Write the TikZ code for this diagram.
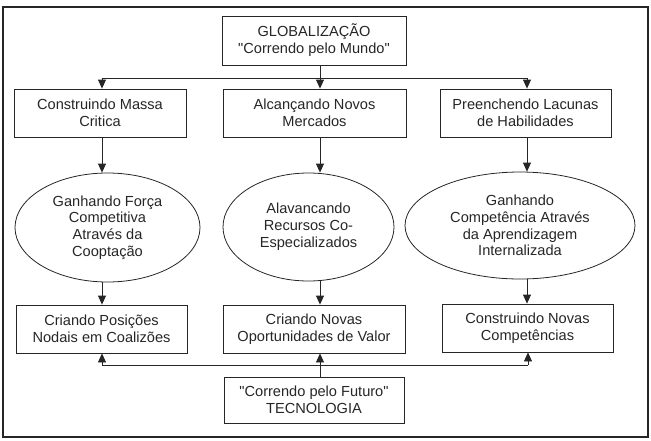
\documentclass[tikz,border=0pt]{standalone}
\usepackage{fontspec}
\setmainfont{Liberation Sans}
\usetikzlibrary{arrows.meta,shapes.geometric}
\tikzset{
  every node/.style={font=\fontsize{14.6}{16.8}\selectfont, text=black!85, align=center, inner sep=0pt},
  boxnode/.style={draw=black!85, line width=0.8pt, rectangle, minimum height=48pt},
  ellnode/.style={draw=black!85, line width=0.8pt, ellipse},
  conn/.style={draw=black!85, line width=0.8pt},
  arr/.style={conn, -{Triangle[length=9pt,width=8pt]}}
}
\begin{document}
\begin{tikzpicture}[x=1pt,y=-1pt]
\useasboundingbox (0,0) rectangle (651,440);
\draw[black!85, line width=1.1pt] (3,7) rectangle (648,437);
% arrow columns
\coordinate (xa) at (102,0);
\coordinate (xb) at (320,0);
\coordinate (xc) at (527,0);
% top
\node[boxnode, minimum width=184pt, minimum height=49pt] (glob) at (314,40.5) {GLOBALIZAÇÃO\\\textquotedbl Correndo pelo Mundo\textquotedbl};
% row 2
\node[boxnode, minimum width=172pt] (a1) at (100,113) {Construindo Massa\\Critica};
\node[boxnode, minimum width=183pt] (b1) at (314.5,113) {Alcançando Novos\\Mercados};
\node[boxnode, minimum width=171pt] (c1) at (525.5,113) {Preenchendo Lacunas\\de Habilidades};
% ellipses
\node[ellnode, minimum width=185pt, minimum height=109pt] (a2) at (107.5,227.5) {Ganhando Força\\Competitiva\\Através da\\Cooptação};
\node[ellnode, minimum width=171pt, minimum height=108pt] (b2) at (308.5,227) {Alavancando\\Recursos Co-\\Especializados};
\node[ellnode, minimum width=230pt, minimum height=107pt] (c2) at (520,225.5) {Ganhando\\Competência Através\\da Aprendizagem\\Internalizada};
% row 3
\node[boxnode, minimum width=171pt] (a3) at (101.5,329) {Criando Posições\\Nodais em Coalizões};
\node[boxnode, minimum width=182pt] (b3) at (314,329) {Criando Novas\\Oportunidades de Valor};
\node[boxnode, minimum width=171pt] (c3) at (527.5,328) {Construindo Novas\\Competências};
% bottom
\node[boxnode, minimum width=180pt, minimum height=46pt] (tech) at (314,400) {\textquotedbl Correndo pelo Futuro\textquotedbl\\TECNOLOGIA};
% top distribution
\coordinate (tl) at (102,78);
\coordinate (tm) at (320,78);
\coordinate (tr) at (527,78);
\draw[conn] (xb |- glob.south) -- (tm);
\draw[conn] (tl) -- (tr);
\draw[arr] (tl) -- (xa |- a1.north);
\draw[arr] (tm) -- (xb |- b1.north);
\draw[arr] (tr) -- (xc |- c1.north);
% vertical flows
\draw[arr] (xa |- a1.south) -- (xa |- a2.north);
\draw[arr] (xb |- b1.south) -- (xb |- b2.north);
\draw[arr] (xc |- c1.south) -- (xc |- c2.north);
\draw[arr] (xa |- a2.south) -- (xa |- a3.north);
\draw[arr] (xb |- b2.south) -- (xb |- b3.north);
\draw[arr] (xc |- c2.south) -- (xc |- c3.north);
% bottom distribution
\coordinate (bl) at (102,365);
\coordinate (br) at (528,365);
\draw[conn] (bl) -- (br);
\draw[arr] (bl) -- (xa |- a3.south);
\draw[arr] (br) -- (br |- c3.south);
\draw[arr] (xb |- tech.north) -- (xb |- b3.south);
\end{tikzpicture}
\end{document}
